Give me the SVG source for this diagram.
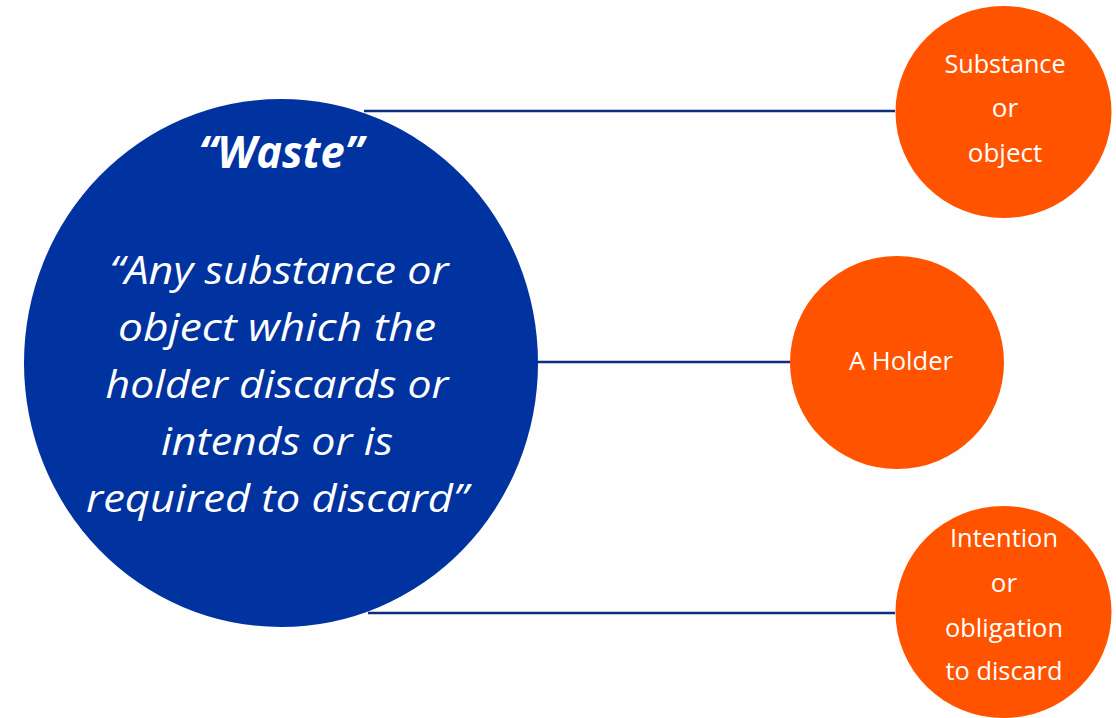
<svg xmlns="http://www.w3.org/2000/svg" width="1116" height="718" viewBox="0 0 1116 718">
  <style>
    .bg { fill: #fefefe; }
    .main { fill: #0033a0; }
    .part { fill: #ff5300; }
    .link { stroke: #0f2d7d; stroke-width: 2.5; fill: none; }
    .title { font-family: "Open Sans", "DejaVu Sans", sans-serif; font-size: 44px; font-weight: 700; font-style: italic; fill: #ffffff; text-anchor: middle; }
    .quote { font-family: "Open Sans", "DejaVu Sans", sans-serif; font-size: 38px; font-style: italic; fill: #ffffff; text-anchor: middle; }
    .label { font-family: "Open Sans", "DejaVu Sans", sans-serif; font-size: 26px; fill: #ffffff; text-anchor: middle; }
  </style>
  <rect class="bg" x="0" y="0" width="1116" height="718"/>

  <!-- connectors from the definition to its three elements -->
  <g id="connectors">
    <line class="link" x1="364" y1="111" x2="895" y2="111"/>
    <line class="link" x1="537" y1="362" x2="792" y2="362"/>
    <line class="link" x1="368" y1="613" x2="895" y2="613"/>
  </g>

  <g id="waste">
    <ellipse class="main" cx="281" cy="363" rx="257" ry="264"/>
    <text class="title" x="281" y="168" textLength="165" lengthAdjust="spacingAndGlyphs">“Waste”</text>
    <text class="quote" x="279" y="284" textLength="339" lengthAdjust="spacingAndGlyphs">“Any substance or</text>
    <text class="quote" x="277" y="341" textLength="318" lengthAdjust="spacingAndGlyphs">object which the</text>
    <text class="quote" x="277" y="398" textLength="343" lengthAdjust="spacingAndGlyphs">holder discards or</text>
    <text class="quote" x="277" y="455" textLength="232" lengthAdjust="spacingAndGlyphs">intends or is</text>
    <text class="quote" x="277" y="512" textLength="382" lengthAdjust="spacingAndGlyphs">required to discard”</text>
  </g>

  <g id="substance">
    <ellipse class="part" cx="1003.5" cy="112" rx="108" ry="106"/>
    <text class="label" x="1005" y="73" textLength="121" lengthAdjust="spacingAndGlyphs">Substance</text>
    <text class="label" x="1005" y="117">or</text>
    <text class="label" x="1005" y="162">object</text>
  </g>

  <g id="holder">
    <ellipse class="part" cx="897" cy="362.5" rx="107" ry="106.5"/>
    <text class="label" x="901" y="370" textLength="104" lengthAdjust="spacingAndGlyphs">A Holder</text>
  </g>

  <g id="intention">
    <ellipse class="part" cx="1003.5" cy="612" rx="108" ry="106"/>
    <text class="label" x="1004" y="547" textLength="108" lengthAdjust="spacingAndGlyphs">Intention</text>
    <text class="label" x="1004" y="592">or</text>
    <text class="label" x="1004" y="637" textLength="118" lengthAdjust="spacingAndGlyphs">obligation</text>
    <text class="label" x="1004" y="680" textLength="117" lengthAdjust="spacingAndGlyphs">to discard</text>
  </g>
</svg>
